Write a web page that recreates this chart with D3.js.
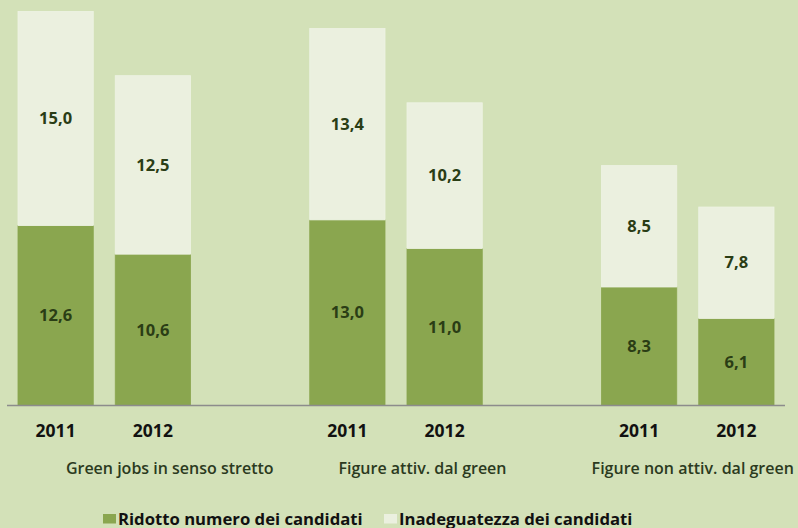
<!DOCTYPE html>
<html>
<head>
<meta charset="utf-8">
<script src="https://cdn.jsdelivr.net/npm/d3@7"></script>
<style>
  html, body { margin: 0; padding: 0; background: #d3e1b8; }
  svg { display: block; }
  text { font-family: "Open Sans", "Noto Sans", sans-serif; }
</style>
</head>
<body>
<svg id="chart" width="798" height="528"></svg>
<script>
// Slots along the category axis; empty slots separate the three groups
const slots = ["g1-2011", "g1-2012", "gap1", "g2-2011", "g2-2012", "gap2", "g3-2011", "g3-2012"];
const years = ["2011", "2012", "", "2011", "2012", "", "2011", "2012"];
const groups = ["Green jobs in senso stretto", "Figure attiv. dal green", "Figure non attiv. dal green"];
const groupSlots = [["g1-2011", "g1-2012"], ["g2-2011", "g2-2012"], ["g3-2011", "g3-2012"]];

const seriesNames = ["Ridotto numero dei candidati", "Inadeguatezza dei candidati"];
// values per bar (gap slots hold null)
const ridotto = [12.6, 10.6, null, 13.0, 11.0, null, 8.3, 6.1];
const inadeguatezza = [15.0, 12.5, null, 13.4, 10.2, null, 8.5, 7.8];

const colors = ["#8aa64f", "#ebf0df"];
const fmt = v => d3.format(".1f")(v).replace(".", ",");

const svg = d3.select("#chart");
const left = 7, right = 785, base = 405.5;

const x = d3.scaleBand().domain(slots).range([left, right]).paddingInner(0.226).paddingOuter(0.113);
const y = d3.scaleLinear().domain([0, 28.4]).range([base, 0]);

const rows = slots.map((s, i) => ({ slot: s, ridotto: ridotto[i], inadeguatezza: inadeguatezza[i] }))
  .filter(d => d.ridotto != null);
const stack = d3.stack().keys(["ridotto", "inadeguatezza"]);
const layers = stack(rows);

const g = svg.append("g");
layers.forEach((layer, li) => {
  g.selectAll(null).data(layer).enter().append("rect")
    .attr("x", d => x(d.data.slot))
    .attr("width", x.bandwidth())
    .attr("y", d => y(d[1]))
    .attr("height", d => y(d[0]) - y(d[1]))
    .attr("fill", colors[li])
    .attr("stroke", li === 0 ? "#8aa64f" : "#eef3e4")
    .attr("stroke-width", 0.8);
  g.selectAll(null).data(layer).enter().append("text")
    .attr("x", d => x(d.data.slot) + x.bandwidth() / 2)
    .attr("y", d => (y(d[0]) + y(d[1])) / 2)
    .attr("dy", "0.35em")
    .attr("text-anchor", "middle")
    .attr("font-size", 16.5)
    .attr("font-weight", 700)
    .attr("fill", "#2a3d15")
    .text(d => fmt(d[1] - d[0]));
});

// category axis line
svg.append("line")
  .attr("x1", left).attr("x2", right)
  .attr("y1", base).attr("y2", base)
  .attr("stroke", "#8c8c8c").attr("stroke-width", 1.5);

// year labels
svg.selectAll(null).data(slots.map((s, i) => ({ s, t: years[i] })).filter(d => d.t)).enter()
  .append("text")
  .attr("x", d => x(d.s) + x.bandwidth() / 2)
  .attr("y", 437)
  .attr("text-anchor", "middle")
  .attr("font-size", 17.5)
  .attr("font-weight", 700)
  .attr("fill", "#111")
  .text(d => d.t);

// group labels, shifted right of each group's centre
const groupShift = [65.5, 26.5, 5];
svg.selectAll(null).data(groups).enter().append("text")
  .attr("x", (d, i) => (x(groupSlots[i][0]) + x(groupSlots[i][1]) + x.bandwidth()) / 2 + groupShift[i])
  .attr("y", 474)
  .attr("text-anchor", "middle")
  .attr("font-size", 16)
  .attr("font-weight", 600)
  .attr("fill", "#2b3a1e")
  .text(d => d);

// legend
const legend = svg.append("g");
const legendX = [103, 384];
seriesNames.forEach((name, i) => {
  legend.append("rect")
    .attr("x", legendX[i]).attr("y", 514)
    .attr("width", 13).attr("height", 9.5)
    .attr("fill", colors[i]);
  legend.append("text")
    .attr("x", legendX[i] + 15).attr("y", 524.5)
    .attr("font-size", 16.7)
    .attr("font-weight", 700)
    .attr("fill", "#111")
    .text(name);
});
</script>
</body>
</html>
